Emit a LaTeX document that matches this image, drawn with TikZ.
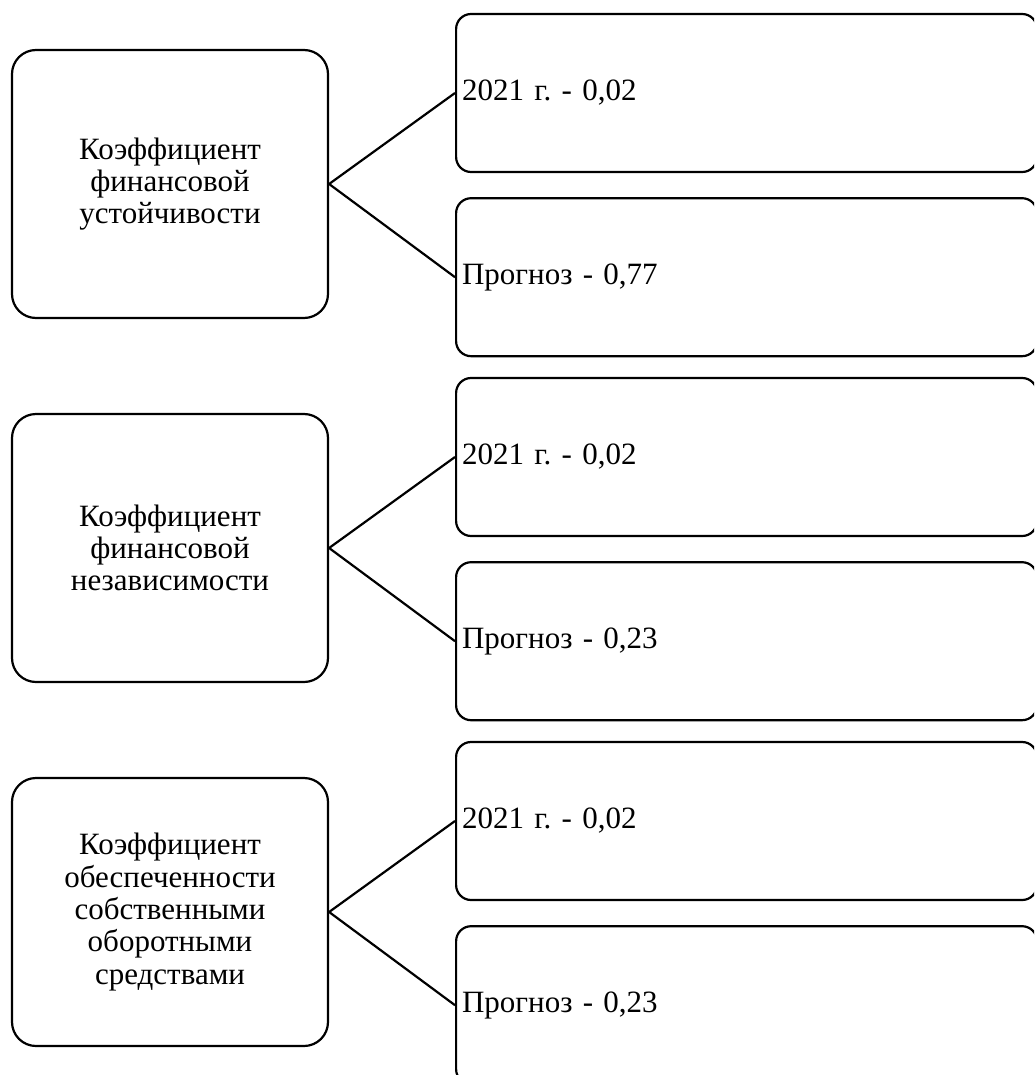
\documentclass[tikz,border=0pt]{standalone}
\usepackage{fontspec}
\setmainfont{Liberation Serif}
\usetikzlibrary{positioning}
\frenchspacing

\begin{document}
\begin{tikzpicture}[x=1pt,y=-1pt,every node/.style={font=\fontsize{31}{32.3}\selectfont},
  kbox/.style={draw,line width=2.2pt,rounded corners=24pt,minimum width=316pt,minimum height=268pt,align=center,inner sep=0pt},
  vbox/.style={draw,line width=2.2pt,rounded corners=15pt,minimum width=581pt,minimum height=158pt,text width=569pt,inner xsep=6pt,align=left,anchor=west}]
\useasboundingbox (0,0) rectangle (1034,1075);
\clip (0,0) rectangle (1034,1075);
\node[kbox] (k1) at (170,184) {Коэффициент\\финансовой\\устойчивости};
\node[vbox] (v1a) at (455,93) {2021 г. - 0,02};
\node[vbox,below=24pt of v1a] (v1b) {Прогноз - 0,77};
\node[kbox] (k2) at (170,548) {Коэффициент\\финансовой\\независимости};
\node[vbox] (v2a) at (455,457) {2021 г. - 0,02};
\node[vbox,below=24pt of v2a] (v2b) {Прогноз - 0,23};
\node[kbox] (k3) at (170,912) {Коэффициент\\обеспеченности\\собственными\\оборотными\\средствами};
\node[vbox] (v3a) at (455,821) {2021 г. - 0,02};
\node[vbox,below=24pt of v3a] (v3b) {Прогноз - 0,23};
\draw[line width=2.2pt] (k1.east) -- (v1a.west);
\draw[line width=2.2pt] (k1.east) -- (v1b.west);
\draw[line width=2.2pt] (k2.east) -- (v2a.west);
\draw[line width=2.2pt] (k2.east) -- (v2b.west);
\draw[line width=2.2pt] (k3.east) -- (v3a.west);
\draw[line width=2.2pt] (k3.east) -- (v3b.west);
\end{tikzpicture}
\end{document}
